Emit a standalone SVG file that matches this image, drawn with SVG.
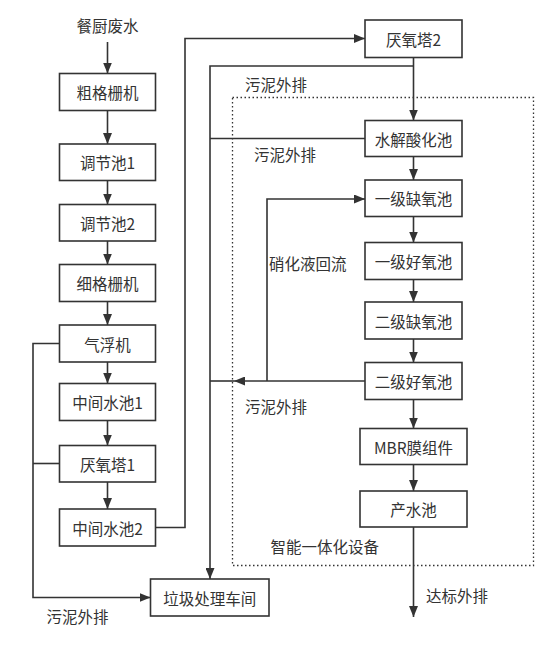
<svg xmlns="http://www.w3.org/2000/svg" width="557" height="647" viewBox="0 0 557 647">
<style>
.box{fill:#fff;stroke:#333;stroke-width:1.6}
.ln{fill:none;stroke:#333;stroke-width:1.6}
.t{font-family:"Noto Sans CJK SC","Liberation Sans",sans-serif;font-size:15.5px;fill:#333;text-anchor:middle;dominant-baseline:central}
.l{font-family:"Noto Sans CJK SC","Liberation Sans",sans-serif;font-size:15.5px;fill:#333;dominant-baseline:central}
</style>
<defs>
<marker id="a" markerUnits="userSpaceOnUse" markerWidth="11" markerHeight="9" refX="11" refY="4.5" orient="auto"><path d="M0,0 L11,4.5 L0,9 z" fill="#333"/></marker>
</defs>
<rect x="232.5" y="97.5" width="301" height="468" fill="none" stroke="#333" stroke-width="1.3" stroke-dasharray="1.5,2.5"/>
<g id="connectors">
<line class="ln" x1="107.5" y1="42" x2="107.5" y2="73.5" marker-end="url(#a)"/>
<line class="ln" x1="107.5" y1="110.5" x2="107.5" y2="144" marker-end="url(#a)"/>
<line class="ln" x1="107.5" y1="180.5" x2="107.5" y2="204.5" marker-end="url(#a)"/>
<line class="ln" x1="107.5" y1="241" x2="107.5" y2="264.5" marker-end="url(#a)"/>
<line class="ln" x1="107.5" y1="301.5" x2="107.5" y2="325" marker-end="url(#a)"/>
<line class="ln" x1="107.5" y1="362" x2="107.5" y2="383.5" marker-end="url(#a)"/>
<line class="ln" x1="107.5" y1="420.5" x2="107.5" y2="445.5" marker-end="url(#a)"/>
<line class="ln" x1="107.5" y1="482" x2="107.5" y2="509" marker-end="url(#a)"/>
<polyline class="ln" points="59.5,343.5 33,343.5 33,597.5 150.5,597.5" marker-end="url(#a)"/>
<line class="ln" x1="33" y1="463.5" x2="59.5" y2="463.5"/>
<polyline class="ln" points="155.5,527.5 185,527.5 185,38.5 365,38.5" marker-end="url(#a)"/>
<line class="ln" x1="413.5" y1="57.5" x2="413.5" y2="120.5" marker-end="url(#a)"/>
<polyline class="ln" points="413.5,66 210,66 210,579" marker-end="url(#a)"/>
<line class="ln" x1="365" y1="138.5" x2="210" y2="138.5"/>
<line class="ln" x1="413.5" y1="156.5" x2="413.5" y2="180" marker-end="url(#a)"/>
<line class="ln" x1="413.5" y1="216.5" x2="413.5" y2="242.5" marker-end="url(#a)"/>
<line class="ln" x1="413.5" y1="279.5" x2="413.5" y2="302" marker-end="url(#a)"/>
<line class="ln" x1="413.5" y1="339" x2="413.5" y2="362.5" marker-end="url(#a)"/>
<line class="ln" x1="413.5" y1="399.5" x2="413.5" y2="428.5" marker-end="url(#a)"/>
<line class="ln" x1="413.5" y1="464.5" x2="413.5" y2="491" marker-end="url(#a)"/>
<line class="ln" x1="413.5" y1="527" x2="413.5" y2="617" marker-end="url(#a)"/>
<line class="ln" x1="365" y1="381" x2="234" y2="381" marker-end="url(#a)"/>
<line class="ln" x1="234" y1="381" x2="210" y2="381"/>
<polyline class="ln" points="267,381 267,199 365,199" marker-end="url(#a)"/>
</g>
<text class="t" x="107.5" y="25">餐厨废水</text>
<g id="n1"><rect class="box" x="59.5" y="73.5" width="96" height="37"/><text class="t" x="107.5" y="92">粗格栅机</text></g>
<g id="n2"><rect class="box" x="59.5" y="144" width="96" height="36.5"/><text class="t" x="107.5" y="162.3">调节池1</text></g>
<g id="n3"><rect class="box" x="59.5" y="204.5" width="96" height="36.5"/><text class="t" x="107.5" y="222.8">调节池2</text></g>
<g id="n4"><rect class="box" x="59.5" y="264.5" width="96" height="37"/><text class="t" x="107.5" y="283">细格栅机</text></g>
<g id="n5"><rect class="box" x="59.5" y="325" width="96" height="37"/><text class="t" x="107.5" y="343.5">气浮机</text></g>
<g id="n6"><rect class="box" x="59.5" y="383.5" width="96" height="37"/><text class="t" x="107.5" y="402">中间水池1</text></g>
<g id="n7"><rect class="box" x="59.5" y="445.5" width="96" height="36.5"/><text class="t" x="107.5" y="463.8">厌氧塔1</text></g>
<g id="n8"><rect class="box" x="59.5" y="509" width="96" height="37"/><text class="t" x="107.5" y="527.5">中间水池2</text></g>
<g id="n9"><rect class="box" x="150.5" y="579" width="118.5" height="37"/><text class="t" x="209.7" y="597.5">垃圾处理车间</text></g>
<g id="r1"><rect class="box" x="365" y="20" width="97" height="37.5"/><text class="t" x="413.5" y="38.7">厌氧塔2</text></g>
<g id="r2"><rect class="box" x="365" y="120.5" width="97" height="36"/><text class="t" x="413.5" y="138.5">水解酸化池</text></g>
<g id="r3"><rect class="box" x="365" y="180" width="97" height="36.5"/><text class="t" x="413.5" y="198.3">一级缺氧池</text></g>
<g id="r4"><rect class="box" x="365" y="242.5" width="97" height="37"/><text class="t" x="413.5" y="261">一级好氧池</text></g>
<g id="r5"><rect class="box" x="365" y="302" width="97" height="37"/><text class="t" x="413.5" y="320.5">二级缺氧池</text></g>
<g id="r6"><rect class="box" x="365" y="362.5" width="97" height="37"/><text class="t" x="413.5" y="381">二级好氧池</text></g>
<g id="r7"><rect class="box" x="360" y="428.5" width="107" height="36"/><text class="t" x="413.5" y="446.5">MBR膜组件</text></g>
<g id="r8"><rect class="box" x="360" y="491" width="107" height="36"/><text class="t" x="413.5" y="509">产水池</text></g>
<text class="l" x="245" y="83.5">污泥外排</text>
<text class="l" x="254" y="154">污泥外排</text>
<text class="l" x="269" y="262.5">硝化液回流</text>
<text class="l" x="245" y="406">污泥外排</text>
<text class="l" x="270.5" y="546">智能一体化设备</text>
<text class="l" x="426" y="595">达标外排</text>
<text class="l" x="46.5" y="616">污泥外排</text>
</svg>
